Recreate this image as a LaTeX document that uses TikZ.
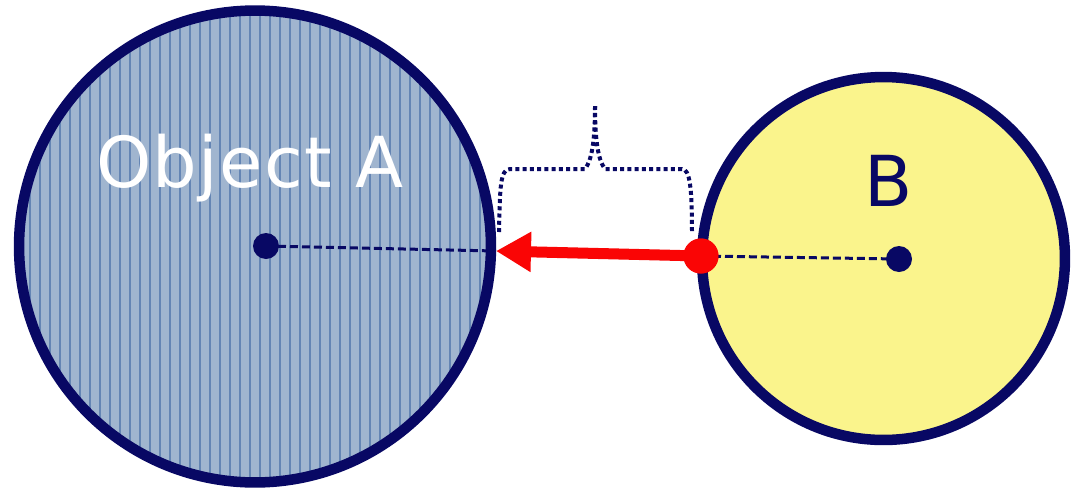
\documentclass[tikz,border=0pt]{standalone}
\usepackage{fontspec}
\setmainfont{DejaVu Sans}
\usetikzlibrary{arrows.meta}
\definecolor{navy}{RGB}{8,8,100}
\definecolor{fillA}{RGB}{160,181,207}
\definecolor{hatchA}{RGB}{100,133,180}
\definecolor{fillB}{RGB}{250,244,140}
\definecolor{redarrow}{RGB}{250,5,5}
\tikzset{
  bigcirc/.style={circle, draw=navy, line width=0.21cm, inner sep=0pt, outer sep=0pt},
  centerdot/.style={circle, fill=navy, inner sep=0pt, minimum size=0.52cm},
  reddot/.style={circle, fill=redarrow, inner sep=0pt, minimum size=0.7cm},
  radius line/.style={navy, line width=0.06cm, dash pattern=on 0.16cm off 0.08cm},
  bracket/.style={navy, line width=0.08cm, dash pattern=on 0.08cm off 0.065cm},
  force/.style={redarrow, line width=0.22cm, -{Triangle[length=0.7cm,width=0.76cm]}},
  hatchline/.style={hatchA, line width=0.025cm},
  label/.style={font=\fontsize{40}{48}\selectfont\addfontfeature{LetterSpace=2}, inner sep=0pt}
}
\begin{document}
\begin{tikzpicture}[x=0.02cm,y=-0.02cm]
\useasboundingbox (0,0) rectangle (1076,491);
% Object A
\node[bigcirc, minimum size=9.44cm, fill=fillA,
  path picture={\foreach \x in {-255,-245,...,255} \draw[hatchline] (\x,-260) -- (\x,260);}]
  (A) at (255,246.5) {};
% Object B
\node[bigcirc, minimum size=7.26cm, fill=fillB] (B) at (883.5,258.5) {};
% labels
\node[label, text=white] (la) at (250,168) {Object A};
\node[label, text=navy] (lb) at (889,181) {B};
% centers
\node[centerdot] (ca) at (266,246) {};
\node[centerdot] (cb) at (899,259) {};
\coordinate (aedge) at (496,251);
\node[reddot] (rd) at (701,256) {};
% radius lines
\draw[radius line] (ca.center) -- (aedge);
\draw[radius line] (rd.center) -- (cb.center);
% force arrow
\draw[force] (rd.center) -- (aedge);
\node[reddot] at (rd) {};
% bracket
\coordinate (bl) at (499,232);
\coordinate (br) at (692,234);
\coordinate (bt) at (595,106);
\draw[bracket] (bl) .. controls (500,188) and (500,169) .. (510,169) -- (585,169)
  .. controls (592,160) and (595,140) .. (bt);
\draw[bracket] (bt) .. controls (595,140) and (598,160) .. (605,169) -- (682,169)
  .. controls (690,169) and (692,188) .. (br);
\end{tikzpicture}
\end{document}
